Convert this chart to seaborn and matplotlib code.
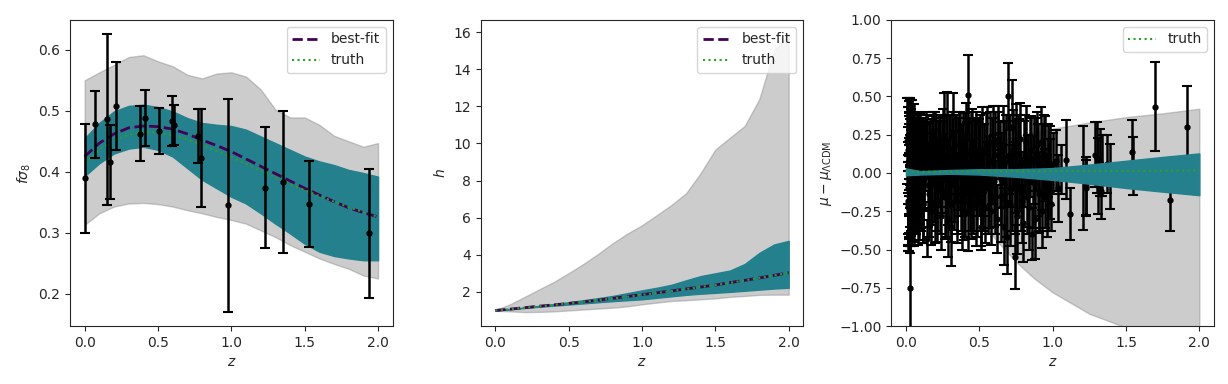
import seaborn as sns
import matplotlib
matplotlib.use("Agg")
import matplotlib.pyplot as plt
import numpy as np
import pandas as pd

# ---- painel 1: f sigma_8 ----
z_grid = [0.0, 0.1, 0.2, 0.3, 0.4, 0.5, 0.6, 0.7, 0.8, 0.9, 1.0,
          1.1, 1.2, 1.3, 1.4, 1.5, 1.6, 1.7, 1.8, 1.9, 2.0]
fs8_gray_up = [0.550, 0.563, 0.575, 0.588, 0.591, 0.581, 0.573, 0.559, 0.553, 0.561, 0.563,
               0.556, 0.535, 0.502, 0.489, 0.489, 0.477, 0.459, 0.450, 0.441, 0.447]
fs8_gray_lo = [0.313, 0.332, 0.343, 0.348, 0.349, 0.347, 0.343, 0.337, 0.332, 0.326, 0.321,
               0.315, 0.304, 0.293, 0.280, 0.269, 0.258, 0.249, 0.241, 0.230, 0.225]
fs8_teal_up = [0.455, 0.480, 0.499, 0.508, 0.510, 0.506, 0.499, 0.488, 0.480, 0.477, 0.475,
               0.469, 0.458, 0.447, 0.436, 0.425, 0.417, 0.411, 0.403, 0.398, 0.392]
fs8_teal_lo = [0.393, 0.414, 0.430, 0.438, 0.441, 0.436, 0.425, 0.406, 0.387, 0.373, 0.359,
               0.348, 0.332, 0.315, 0.299, 0.282, 0.269, 0.262, 0.258, 0.255, 0.255]
fs8_best = [0.425, 0.447, 0.462, 0.472, 0.475, 0.474, 0.470, 0.462, 0.452, 0.443, 0.433,
            0.421, 0.409, 0.397, 0.385, 0.373, 0.362, 0.351, 0.341, 0.333, 0.326]
fs8_truth = [0.413, 0.436, 0.452, 0.461, 0.465, 0.464, 0.460, 0.453, 0.444, 0.434, 0.424,
             0.413, 0.402, 0.391, 0.380, 0.370, 0.360, 0.351, 0.342, 0.334, 0.326]

fs8_z = [0.0, 0.068, 0.15, 0.17, 0.216, 0.38, 0.41, 0.51, 0.597, 0.606,
         0.774, 0.795, 0.974, 1.226, 1.353, 1.526, 1.94]
fs8_val = [0.389, 0.478, 0.486, 0.416, 0.508, 0.462, 0.488, 0.467, 0.483, 0.477,
           0.459, 0.423, 0.345, 0.374, 0.383, 0.347, 0.299]
fs8_err = [0.090, 0.055, 0.140, 0.060, 0.072, 0.045, 0.046, 0.038, 0.041, 0.033,
           0.044, 0.080, 0.175, 0.099, 0.116, 0.070, 0.106]

# ---- painel 2: h(z) ----
h_gray_up = [1.02, 1.33, 1.73, 2.14, 2.54, 3.01, 3.50, 4.04, 4.62, 5.14, 5.59,
             6.13, 6.68, 7.31, 8.40, 9.67, 10.31, 10.94, 12.39, 15.02, 15.90]
h_gray_lo = [0.98, 0.95, 0.91, 0.92, 0.95, 1.00, 1.05, 1.10, 1.15, 1.22, 1.33,
             1.42, 1.51, 1.55, 1.60, 1.65, 1.73, 1.78, 1.84, 1.85, 1.85]
h_teal_up = [1.00, 1.08, 1.16, 1.25, 1.34, 1.44, 1.55, 1.66, 1.78, 1.93, 2.08,
             2.22, 2.38, 2.62, 2.85, 3.00, 3.15, 3.50, 4.10, 4.55, 4.75]
h_teal_lo = [1.00, 1.06, 1.13, 1.20, 1.26, 1.32, 1.38, 1.44, 1.50, 1.55, 1.60,
             1.68, 1.76, 1.84, 1.90, 1.95, 2.00, 2.06, 2.12, 2.18, 2.22]
h_best = [1.00, 1.07, 1.15, 1.23, 1.30, 1.38, 1.46, 1.55, 1.65, 1.75, 1.85,
          1.95, 2.05, 2.16, 2.26, 2.37, 2.50, 2.62, 2.75, 2.89, 3.03]
h_truth = [1.00, 1.07, 1.15, 1.22, 1.30, 1.38, 1.46, 1.55, 1.64, 1.74, 1.84,
           1.94, 2.04, 2.15, 2.26, 2.37, 2.49, 2.62, 2.75, 2.89, 3.03]

# ---- painel 3: mu - mu_LCDM ----
mu_gz = [0.0, 0.25, 0.5, 0.625, 0.75, 0.875, 1.0, 1.25, 1.5, 1.75, 2.0]
mu_gray_up = [0.0, 0.10, 0.17, 0.21, 0.24, 0.27, 0.29, 0.33, 0.365, 0.39, 0.42]
mu_gray_lo = [0.0, -0.12, -0.30, -0.45, -0.58, -0.69, -0.78, -0.92, -1.01, -1.10, -1.18]
mu_tz = [0.0, 0.1, 0.3, 0.5, 0.75, 1.0, 1.25, 1.5, 1.75, 2.0]
mu_teal_up = [0.030, 0.012, 0.020, 0.025, 0.025, 0.032, 0.055, 0.080, 0.105, 0.128]
mu_teal_lo = [-0.015, -0.010, -0.005, -0.010, -0.025, -0.045, -0.070, -0.098, -0.122, -0.145]
mu_truth = [0.008, 0.008, 0.009, 0.010, 0.011, 0.012, 0.013, 0.014, 0.015, 0.016]

sn_z = [0.010, 0.012, 0.014, 0.015, 0.016, 0.018, 0.019, 0.020, 0.021, 0.022,
        0.023, 0.024, 0.025, 0.026, 0.027, 0.028, 0.029, 0.030, 0.031, 0.033,
        0.034, 0.036, 0.038, 0.040, 0.042, 0.045, 0.048, 0.051, 0.055, 0.058,
        0.065, 0.07, 0.075, 0.08, 0.085, 0.09, 0.095, 0.10, 0.11, 0.115,
        0.12, 0.13, 0.141, 0.145, 0.15, 0.16, 0.17, 0.18, 0.19, 0.20,
        0.21, 0.22, 0.23, 0.24, 0.25, 0.26, 0.27, 0.28, 0.29, 0.30,
        0.31, 0.32, 0.33, 0.34, 0.35, 0.36, 0.37, 0.38, 0.39, 0.40,
        0.41, 0.42, 0.423, 0.43, 0.44, 0.45, 0.46, 0.47, 0.48, 0.49,
        0.50, 0.51, 0.514, 0.52, 0.53, 0.54, 0.55, 0.56, 0.57, 0.58,
        0.59, 0.60, 0.61, 0.62, 0.63, 0.64, 0.65, 0.66, 0.67, 0.68,
        0.69, 0.695, 0.70, 0.71, 0.72, 0.73, 0.74, 0.741, 0.75, 0.76,
        0.77, 0.78, 0.79, 0.80, 0.81, 0.82, 0.83, 0.84, 0.85, 0.86,
        0.87, 0.88, 0.89, 0.90, 0.91, 0.92, 0.93, 0.94, 0.95, 0.96,
        0.97, 0.98, 0.99, 1.00, 1.02, 1.035, 1.057, 1.089, 1.116, 1.205,
        1.225, 1.23, 1.29, 1.30, 1.31, 1.32, 1.33, 1.335, 1.373, 1.393,
        1.541, 1.548, 1.698, 1.798, 1.914]
sn_dmu = [0.21, -0.18, 0.05, 0.25, -0.22, 0.12, -0.08, 0.30, -0.25, 0.02,
          0.18, -0.15, -0.75, 0.27, -0.05, 0.10, -0.28, 0.22, -0.12, 0.08,
          0.26, -0.20, 0.15, -0.02, 0.20, -0.18, 0.11, -0.10, 0.05, 0.16,
          -0.15, 0.12, -0.05, 0.20, -0.22, 0.08, 0.02, -0.12, 0.15, -0.20,
          0.05, 0.10, -0.43, 0.18, -0.08, 0.04, -0.25, 0.14, -0.02, 0.22,
          -0.18, 0.06, 0.16, -0.28, 0.10, 0.24, -0.12, 0.20, -0.30, 0.08,
          -0.35, 0.25, -0.05, 0.12, -0.18, 0.18, 0.02, -0.22, 0.15, -0.10,
          0.22, -0.26, 0.508, 0.05, -0.15, 0.20, -0.08, 0.10, -0.20, 0.14,
          0.10, -0.18, -0.355, 0.15, 0.02, -0.22, 0.18, -0.10, 0.08, -0.25,
          0.20, -0.05, 0.12, -0.30, 0.22, 0.05, -0.15, 0.18, -0.35, 0.10,
          -0.42, 0.50, 0.08, -0.20, 0.30, 0.15, -0.10, -0.55, 0.18, -0.28,
          0.05, 0.22, -0.18, -0.33, 0.12, 0.20, -0.05, -0.22, 0.15, -0.40,
          0.08, -0.30, 0.18, 0.02, -0.12, 0.20, -0.25, 0.10, 0.12, -0.15,
          -0.08, 0.05, -0.20, 0.06, 0.08, -0.10, 0.023, 0.088, -0.266, -0.03,
          -0.088, -0.097, 0.12, 0.10, -0.02, 0.07, -0.12, 0.05, 0.06, -0.023,
          0.134, 0.046, 0.434, -0.176, 0.303]
sn_err = [0.28, 0.30, 0.25, 0.24, 0.29, 0.27, 0.31, 0.19, 0.26, 0.30,
          0.22, 0.28, 0.27, 0.22, 0.30, 0.25, 0.24, 0.26, 0.29, 0.27,
          0.22, 0.28, 0.24, 0.30, 0.20, 0.27, 0.25, 0.26, 0.28, 0.22,
          0.24, 0.22, 0.26, 0.18, 0.25, 0.27, 0.30, 0.24, 0.20, 0.26,
          0.28, 0.22, 0.12, 0.20, 0.27, 0.29, 0.22, 0.23, 0.30, 0.18,
          0.27, 0.28, 0.20, 0.22, 0.27, 0.28, 0.30, 0.33, 0.25, 0.30,
          0.26, 0.27, 0.32, 0.26, 0.28, 0.22, 0.30, 0.28, 0.24, 0.32,
          0.24, 0.25, 0.26, 0.30, 0.28, 0.22, 0.30, 0.26, 0.28, 0.20,
          0.25, 0.30, 0.15, 0.28, 0.30, 0.24, 0.25, 0.30, 0.32, 0.22,
          0.24, 0.30, 0.28, 0.22, 0.22, 0.28, 0.30, 0.26, 0.25, 0.28,
          0.24, 0.22, 0.30, 0.28, 0.31, 0.26, 0.30, 0.21, 0.27, 0.25,
          0.30, 0.24, 0.28, 0.25, 0.26, 0.24, 0.30, 0.28, 0.22, 0.17,
          0.28, 0.26, 0.22, 0.30, 0.26, 0.23, 0.24, 0.28, 0.25, 0.27,
          0.30, 0.26, 0.18, 0.20, 0.20, 0.22, 0.16, 0.26, 0.17, 0.34,
          0.195, 0.18, 0.21, 0.23, 0.25, 0.22, 0.18, 0.20, 0.19, 0.21,
          0.21, 0.19, 0.29, 0.20, 0.265]

# segunda leva de supernovas (regiao densa z < 1)
sn2_z = [0.011, 0.013, 0.017, 0.019, 0.021, 0.023, 0.025, 0.027, 0.029, 0.032,
         0.035, 0.037, 0.039, 0.041, 0.044, 0.047, 0.050, 0.053, 0.057, 0.060,
         0.062, 0.068, 0.072, 0.078, 0.083, 0.088, 0.093, 0.098, 0.105, 0.112,
         0.118, 0.125, 0.135, 0.155, 0.165, 0.175, 0.185, 0.195, 0.205, 0.215,
         0.225, 0.235, 0.245, 0.255, 0.265, 0.275, 0.285, 0.295, 0.305, 0.315,
         0.325, 0.335, 0.345, 0.355, 0.365, 0.375, 0.385, 0.395, 0.405, 0.415,
         0.435, 0.445, 0.455, 0.465, 0.475, 0.485, 0.495, 0.505, 0.525, 0.545,
         0.565, 0.585, 0.605, 0.625, 0.645, 0.665, 0.685, 0.705, 0.725, 0.745,
         0.765, 0.785, 0.805, 0.825, 0.845, 0.865, 0.885, 0.905, 0.925, 0.945,
         0.965, 0.985]
sn2_dmu = [-0.10, 0.15, -0.20, 0.05, 0.18, -0.12, 0.08, -0.22, 0.20, -0.05,
           0.12, -0.18, 0.22, 0.00, -0.15, 0.10, -0.08, 0.18, -0.20, 0.06,
           0.10, -0.12, 0.16, -0.06, 0.04, -0.18, 0.14, 0.00, -0.10, 0.12,
           -0.20, 0.06, 0.18, -0.14, 0.08, -0.04, 0.16, -0.20, 0.10, -0.08,
           0.14, -0.12, 0.04, 0.20, -0.16, 0.08, -0.06, 0.12, -0.20, 0.16,
           -0.02, 0.10, -0.14, 0.06, 0.18, -0.10, 0.02, -0.18, 0.12, 0.04,
           -0.08, 0.16, -0.14, 0.06, 0.12, -0.18, 0.02, 0.10, -0.12, 0.14,
           -0.06, 0.08, -0.16, 0.18, -0.04, 0.06, -0.20, 0.12, -0.10, 0.04,
           0.14, -0.12, 0.06, -0.16, 0.10, -0.06, 0.12, -0.14, 0.04, -0.10,
           0.08, -0.04]
sn2_err = [0.30, 0.28, 0.27, 0.32, 0.29, 0.30, 0.31, 0.26, 0.28, 0.33,
           0.30, 0.29, 0.26, 0.32, 0.30, 0.28, 0.31, 0.27, 0.28, 0.30,
           0.26, 0.28, 0.24, 0.30, 0.28, 0.26, 0.25, 0.30, 0.28, 0.24,
           0.26, 0.30, 0.22, 0.28, 0.27, 0.30, 0.24, 0.26, 0.28, 0.30,
           0.24, 0.28, 0.30, 0.22, 0.27, 0.30, 0.28, 0.26, 0.25, 0.24,
           0.30, 0.28, 0.26, 0.30, 0.22, 0.28, 0.30, 0.26, 0.27, 0.29,
           0.30, 0.24, 0.26, 0.30, 0.28, 0.24, 0.30, 0.28, 0.26, 0.25,
           0.30, 0.28, 0.24, 0.22, 0.30, 0.28, 0.22, 0.26, 0.28, 0.30,
           0.24, 0.26, 0.28, 0.24, 0.26, 0.30, 0.24, 0.25, 0.28, 0.26,
           0.24, 0.26]

TEAL = "#23808c"
PURPLE = "#440154"
GREEN = "#2ca02c"


def banda(ax, x, lo, up, cor, alpha, z):
    ax.fill_between(x, lo, up, color=cor, alpha=alpha, zorder=z)


def main():
    sns.set_style("ticks")
    plt.rcParams["font.family"] = ["DejaVu Sans"]

    fig, axes = plt.subplots(1, 3, figsize=(12.28, 3.84), dpi=100)
    fig.subplots_adjust(left=0.057, right=0.9886, bottom=0.151, top=0.948, wspace=0.2725)

    df1 = pd.DataFrame({"z": z_grid, "best": fs8_best, "truth": fs8_truth})
    df2 = pd.DataFrame({"z": z_grid, "best": h_best, "truth": h_truth})

    # fsigma8
    ax = axes[0]
    banda(ax, z_grid, fs8_gray_lo, fs8_gray_up, "gray", 0.4, 1)
    banda(ax, z_grid, fs8_teal_lo, fs8_teal_up, TEAL, 1.0, 2)
    sns.lineplot(data=df1, x="z", y="best", ax=ax, color=PURPLE, lw=2,
                 linestyle="--", label="best-fit", zorder=3)
    sns.lineplot(data=df1, x="z", y="truth", ax=ax, color=GREEN, lw=1.5,
                 linestyle=":", label="truth", zorder=3)
    ax.errorbar(fs8_z, fs8_val, yerr=fs8_err, fmt=".", color="k", ms=7,
                lw=1.8, capsize=3.5, capthick=1.5, zorder=4)
    ax.set_xlabel(r"$z$")
    ax.set_ylabel(r"$f\sigma_8$")
    ax.legend(loc="upper right")

    # h
    ax = axes[1]
    banda(ax, z_grid, h_gray_lo, h_gray_up, "gray", 0.4, 1)
    banda(ax, z_grid, h_teal_lo, h_teal_up, TEAL, 1.0, 2)
    sns.lineplot(data=df2, x="z", y="best", ax=ax, color=PURPLE, lw=2,
                 linestyle="--", label="best-fit", zorder=3)
    sns.lineplot(data=df2, x="z", y="truth", ax=ax, color=GREEN, lw=1.5,
                 linestyle=":", label="truth", zorder=3)
    ax.set_xlabel(r"$z$")
    ax.set_ylabel(r"$h$")
    ax.legend(loc="upper right")

    # mu - mu_LCDM
    ax = axes[2]
    banda(ax, mu_gz, mu_gray_lo, mu_gray_up, "gray", 0.4, 1)
    for zz, mm, ee in [(sn_z, sn_dmu, sn_err), (sn2_z, sn2_dmu, sn2_err)]:
        ax.errorbar(zz, mm, yerr=ee, fmt=".", color="k", ms=7,
                    lw=1.8, capsize=3.5, capthick=1.5, zorder=2)
    banda(ax, mu_tz, mu_teal_lo, mu_teal_up, TEAL, 1.0, 3)
    df3 = pd.DataFrame({"z": mu_tz, "truth": mu_truth})
    sns.lineplot(data=df3, x="z", y="truth", ax=ax, color=GREEN, lw=1.5,
                 linestyle=":", label="truth", zorder=4)
    ax.set_ylim(-1, 1)
    ax.set_xlabel(r"$z$")
    ax.set_ylabel(r"$\mu-\mu_{\Lambda{\rm CDM}}$")
    ax.legend(loc="upper right")

    for a in axes:
        a.set_xticks([0.0, 0.5, 1.0, 1.5, 2.0])

    fig.savefig("out.png", dpi=100)


main()
